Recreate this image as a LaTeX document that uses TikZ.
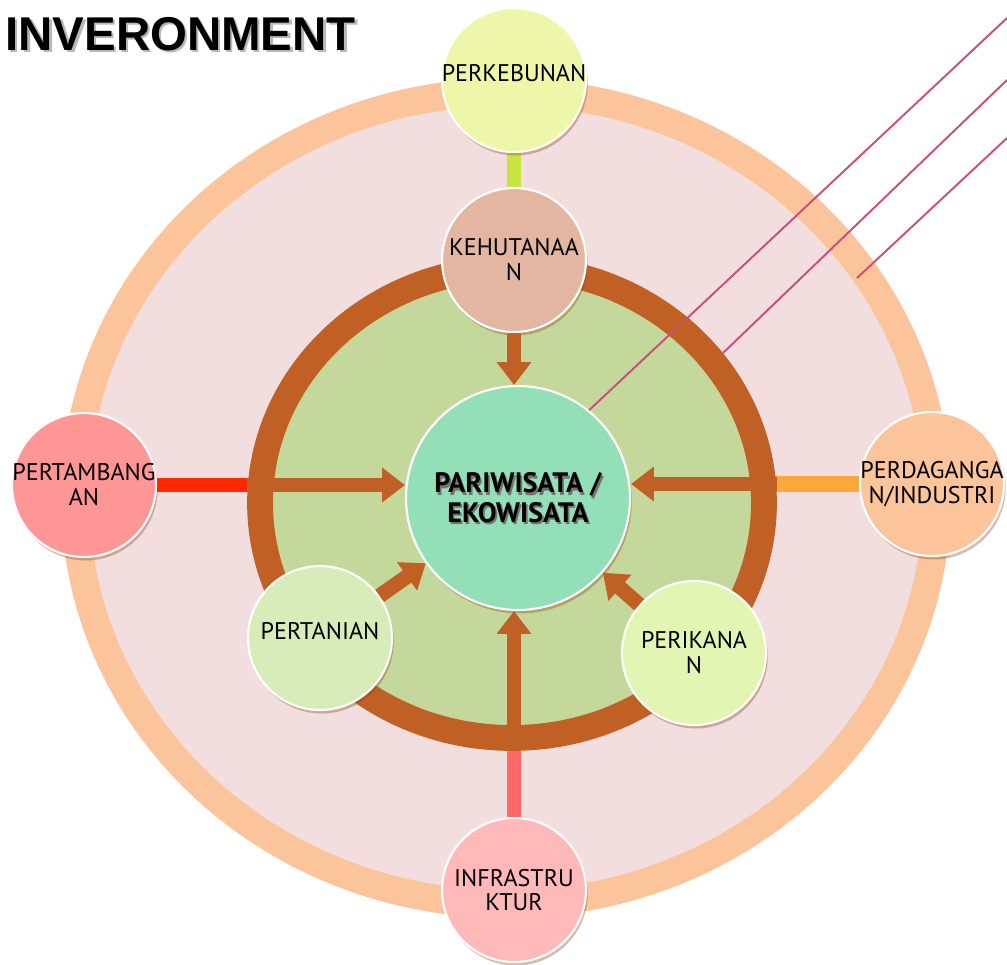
\documentclass[tikz,border=0pt]{standalone}
\usepackage{fontspec}
\setmainfont{PT Sans}
\newfontfamily\titlefont{Liberation Sans}
\usepackage{tikz}
\usepackage{xcolor}
\usetikzlibrary{shapes.geometric,arrows.meta,backgrounds,shadows}
\definecolor{envpink}{RGB}{242,222,222}
\definecolor{envpeach}{RGB}{251,196,154}
\definecolor{envbrown}{RGB}{192,96,36}
\definecolor{envgreen}{RGB}{197,216,155}
\definecolor{envteal}{RGB}{147,224,184}
\definecolor{envlime}{RGB}{200,228,64}
\definecolor{envred}{RGB}{255,40,0}
\definecolor{envorange}{RGB}{250,168,60}
\definecolor{envsalmon}{RGB}{255,102,102}
\definecolor{envmagenta}{RGB}{200,80,120}
\definecolor{envkebun}{RGB}{238,246,170}
\definecolor{envhutan}{RGB}{226,182,160}
\definecolor{envtambang}{RGB}{255,150,150}
\definecolor{envdagang}{RGB}{252,196,154}
\definecolor{envtani}{RGB}{215,236,185}
\definecolor{envikan}{RGB}{226,245,178}
\definecolor{envinfra}{RGB}{255,185,185}

\begin{document}
\begin{tikzpicture}[x=0.02cm, y=-0.02cm,
        envcircle/.style={circle, draw=white, line width=1.2pt, minimum size=2.88cm, inner sep=0pt,
            drop shadow={shadow xshift=1pt, shadow yshift=-2pt, opacity=0.35, fill=envbrown!70!black}},
        envlabel/.style={font=\fontsize{13.7}{14.2}\selectfont, align=center, inner sep=0pt},
        bigarrow/.style={draw=envbrown, line width=8.5pt, -{Triangle[width=19pt,length=13pt]}},
        linkbar/.style={line width=8.5pt},
        ray/.style={draw=envmagenta, line width=1.1pt}]
        \useasboundingbox (0,0) rectangle (1007,964);

        % Inner ring
        \node [ellipse, draw=envbrown, fill=envgreen, line width=14.7pt, minimum width=10.08cm, minimum height=9.4cm] (ring) at (512,503) {};

        % Centre
        \node [envcircle, fill=envteal, minimum size=4.48cm,
            label={[envlabel, font=\bfseries\fontsize{16}{17}\selectfont, text=black!55, xshift=1pt, yshift=-1.2pt]center:PARIWISATA /\\EKOWISATA},
            label={[envlabel, font=\bfseries\fontsize{16}{17}\selectfont]center:PARIWISATA /\\EKOWISATA}] (wisata) at (518,498) {};

        % Sectors
        \node [envcircle, fill=envkebun, label={[envlabel, yshift=4pt]center:PERKEBUNAN}] (kebun) at (514,80) {};
        \node [envcircle, fill=envhutan, label={[envlabel]center:KEHUTANAA\\N}] (hutan) at (514,260) {};
        \node [envcircle, fill=envtambang, label={[envlabel]center:PERTAMBANG\\AN}] (tambang) at (84,485) {};
        \node [envcircle, fill=envdagang, label={[envlabel]center:PERDAGANGA\\N/INDUSTRI}] (dagang) at (932,484) {};
        \node [envcircle, fill=envtani, label={[envlabel, yshift=4pt]center:PERTANIAN}] (tani) at (320,638) {};
        \node [envcircle, fill=envikan, label={[envlabel]center:PERIKANA\\N}] (ikan) at (694,653) {};
        \node [envcircle, fill=envinfra, label={[envlabel]center:INFRASTRU\\KTUR}] (infra) at (514,890) {};

        % Arrows
        \draw [bigarrow] (hutan) -- (hutan |- wisata.north);
        \draw [bigarrow] (tambang -| ring.west) -- (tambang -| wisata.west);
        \draw [bigarrow] (dagang -| ring.east) -- (dagang -| wisata.east);
        \draw [bigarrow] (infra |- ring.south) -- (infra |- wisata.south);
        \draw [bigarrow] (tani) -- (wisata);
        \draw [bigarrow] (ikan) -- (wisata);

        % Rays
        \coordinate (ray1) at (1007,18);
        \coordinate (ray2) at (1007,80);
        \coordinate (ray3) at (1007,138);
        \coordinate (ray2end) at (723,353);
        \coordinate (ray3end) at (857,278);
        \draw [ray] (ray1) -- (wisata.51);
        \draw [ray] (ray2) -- (ray2end);
        \draw [ray] (ray3) -- (ray3end);

        % Title
        \node [anchor=base west, inner sep=0pt, font=\titlefont\bfseries\fontsize{27}{30}\selectfont, text=black!28] (titleshade) at (7.5,52.5) {INVERONMENT};
        \node [anchor=base west, inner sep=0pt, font=\titlefont\bfseries\fontsize{27}{30}\selectfont] (title) at (5,50) {INVERONMENT};

        % Outer field and links
        \begin{pgfonlayer}{background}
            \node [ellipse, draw=envpeach, fill=envpink, line width=15.9pt, minimum width=17.24cm, minimum height=16.24cm] (field) at (506,498) {};
            \draw [linkbar, draw=envlime] (kebun) -- (hutan);
            \draw [linkbar, draw=envred, line width=8pt] (tambang) -- (tambang -| wisata);
            \draw [linkbar, draw=envorange, line width=9.5pt] (dagang) -- (dagang -| wisata);
            \draw [linkbar, draw=envsalmon] (infra) -- (infra |- wisata);
        \end{pgfonlayer}
    \end{tikzpicture}
\end{document}
